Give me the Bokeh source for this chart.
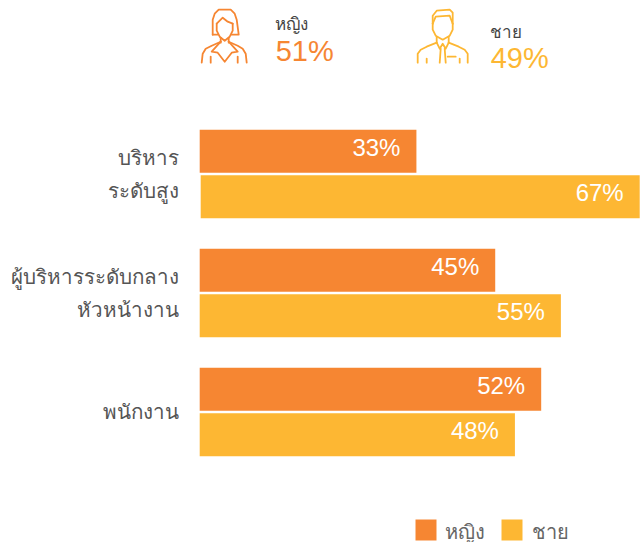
from bokeh.plotting import figure
from bokeh.models import Range1d
from bokeh.core.properties import value
from bokeh.embed import file_html
from bokeh.resources import INLINE

# ---- data ----
groups = ["ผู้บริหารระดับสูง", "ผู้บริหารระดับกลาง หัวหน้างาน", "พนักงาน"]
women = [33, 45, 52]
men = [67, 55, 48]
women_labels = ["33%", "45%", "52%"]
men_labels = ["67%", "55%", "48%"]
category_lines = [["บริหาร", "ระดับสูง"], ["ผู้บริหารระดับกลาง", "หัวหน้างาน"], ["พนักงาน"]]
women_name = "หญิง"
men_name = "ชาย"
women_total = "51%"
men_total = "49%"

ORANGE = "#F68632"
YELLOW = "#FDB733"
FONT = "Liberation Sans"
W, H = 641, 542
SHIFT = 0.8  # the frame renders slightly inset; compensate

# layout: picture pixels
px_per_pct = 440 / 67
x0_px = 200 - SHIFT
first_group_px = 174 - SHIFT
step = 119
x_range = Range1d(-x0_px / px_per_pct, (W - x0_px) / px_per_pct)
y_range = Range1d((H - first_group_px) / step, -first_group_px / step)

p = figure(width=W, height=H, x_range=x_range, y_range=y_range, toolbar_location=None,
           output_backend="svg", min_border=0, outline_line_color=None,
           background_fill_color="white", border_fill_color="white")
p.xaxis.visible = False
p.yaxis.visible = False
p.grid.visible = False
p.extra_x_ranges["page"] = Range1d(SHIFT, W + SHIFT)
p.extra_y_ranges["page"] = Range1d(H + SHIFT, SHIFT)

idx = list(range(len(groups)))
bar_h = 43 / step
off_w = -22.5 / step
off_m = 23 / step
p.hbar(y=[i + off_w for i in idx], right=women, left=0, height=bar_h, color=ORANGE, line_color=None)
men_left = [1 / px_per_pct, 0, 0]
p.hbar(y=[i + off_m for i in idx], right=men, left=men_left, height=bar_h, color=YELLOW, line_color=None)

p.text(x=women, y=[i + off_w for i in idx], text=women_labels, x_offset=-16, y_offset=-4,
       text_align="right", text_baseline="middle", text_color="white",
       text_font=value(FONT), text_font_size="24px")
p.text(x=men, y=[i + off_m for i in idx], text=men_labels, x_offset=-16, y_offset=-4,
       text_align="right", text_baseline="middle", text_color="white",
       text_font=value(FONT), text_font_size="24px")

# category labels
line_gap = 33 / step
cx, cy, ct = [], [], []
for i, lines in enumerate(category_lines):
    for j, t in enumerate(lines):
        cy.append(i + (j - (len(lines) - 1) / 2) * line_gap)
        ct.append(t)
        cx.append(0)
p.text(x=cx, y=cy, text=ct, x_offset=-21, text_align="right", text_baseline="middle",
       text_color="#555555", text_font=value(FONT), text_font_size="20.6px")

# header + legend decoration, in picture pixels
def deco():
    return dict(x_range_name="page", y_range_name="page")

woman_icon = [
    [(213, 35), (213, 20), (215, 14), (219, 10), (231, 10), (235, 14), (237, 20), (239, 35), (232, 35)],
    [(213, 35), (218, 35)],
    [(217, 24), (217, 31), (220, 37), (225, 41), (230, 37), (233, 31), (233, 24)],
    [(217, 24), (223, 18), (228, 22), (233, 24)],
    [(221, 38), (221, 43)], [(229, 38), (229, 43)],
    [(202, 63), (203, 54), (206, 49), (212, 46), (221, 42)],
    [(247, 63), (246, 54), (243, 49), (238, 46), (229, 42)],
    [(221, 42), (212, 52), (218, 53), (225, 62), (232, 53), (238, 52), (229, 42)],
    [(211, 57), (211, 63)], [(238, 57), (238, 63)],
]
man_icon = [
    [(433, 24), (433, 16), (437, 11), (450, 10), (453, 13), (453, 24)],
    [(433, 24), (433, 30), (436, 36), (443, 40), (450, 36), (453, 30), (453, 24)],
    [(433, 24), (436, 17), (450, 16), (453, 24)],
    [(437, 37), (437, 43)], [(449, 37), (449, 43)],
    [(418, 63), (418, 54), (421, 50), (427, 47), (437, 43)],
    [(468, 63), (468, 54), (465, 50), (459, 47), (449, 43)],
    [(437, 43), (440, 49), (443, 44), (446, 49), (449, 43)],
    [(441, 49), (440, 63)], [(445, 49), (446, 63)],
    [(448, 57), (456, 57)],
    [(427, 59), (427, 63)], [(460, 59), (460, 63)],
]
for icon, col in ((woman_icon, ORANGE), (man_icon, YELLOW)):
    p.multi_line(xs=[[q[0] for q in s] for s in icon], ys=[[q[1] for q in s] for s in icon],
                 line_color=col, line_width=1.8, line_join="round", line_cap="round", **deco())

p.text(x=[275, 490], y=[25, 33], text=[women_name, men_name], text_baseline="middle",
       text_color="#444444", text_font=value(FONT), text_font_size="17px", **deco())
p.text(x=[276], y=[51], text=[women_total], text_baseline="middle", text_color=ORANGE,
       text_font=value(FONT), text_font_size="29px", **deco())
p.text(x=[491], y=[58], text=[men_total], text_baseline="middle", text_color=YELLOW,
       text_font=value(FONT), text_font_size="29px", **deco())

p.quad(left=[415.8, 501.8], right=[436.8, 522.8], top=[519.8, 519.8], bottom=[540.8, 540.8],
       color=[ORANGE, YELLOW], line_color=None, **deco())
p.text(x=[445, 532], y=[532, 532], text=[women_name, men_name], text_baseline="middle",
       text_color="#666666", text_font=value(FONT), text_font_size="20px", **deco())

open("out.html", "w").write(file_html(p, INLINE))
